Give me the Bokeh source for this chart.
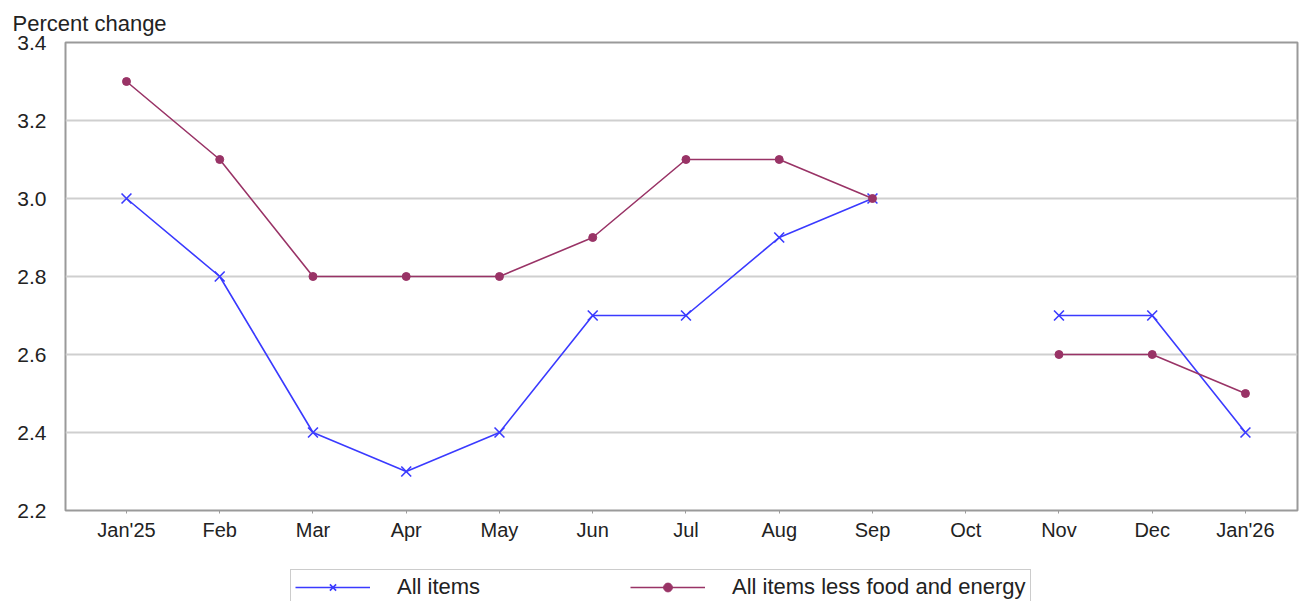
from bokeh.plotting import figure
from bokeh.layouts import column
from bokeh.models import ColumnDataSource, FixedTicker, Legend, LegendItem, Range1d, Title
from bokeh.embed import file_html
from bokeh.resources import INLINE

months = ["Jan'25", "Feb", "Mar", "Apr", "May", "Jun", "Jul", "Aug", "Sep", "Oct", "Nov", "Dec", "Jan'26"]
all_items = [3.0, 2.8, 2.4, 2.3, 2.4, 2.7, 2.7, 2.9, 3.0, float("nan"), 2.7, 2.7, 2.4]
core = [3.3, 3.1, 2.8, 2.8, 2.8, 2.9, 3.1, 3.1, 3.0, float("nan"), 2.6, 2.6, 2.5]
y_ticks = [2.2, 2.4, 2.6, 2.8, 3.0, 3.2, 3.4]
series_names = ["All items", "All items less food and energy"]

xs = list(range(len(months)))
src = ColumnDataSource(dict(x=xs, a=all_items, c=core))

FONT = "Liberation Sans"
BLUE = "#3a3aff"
MAROON = "#993366"
TXT = "#222222"

p = figure(width=1299, height=560, output_backend="svg", toolbar_location=None,
           x_range=Range1d(-0.654, len(months) - 1 + 0.558),
           y_range=Range1d(2.2, 3.4),
           min_border_left=65, min_border_right=2, min_border_top=42, min_border_bottom=50)

p.title = Title(text="Percent change", align="left", offset=-53, text_font=FONT,
                text_font_size="22px", text_font_style="normal", text_color=TXT,
                standoff=14)

p.background_fill_color = "white"
p.outline_line_color = "#9a9a9a"
p.outline_line_width = 2

p.xgrid.grid_line_color = None
p.ygrid.grid_line_color = "#cfcfcf"
p.ygrid.grid_line_width = 2
p.ygrid.ticker = FixedTicker(ticks=y_ticks[1:-1])

p.yaxis.ticker = FixedTicker(ticks=y_ticks)
p.yaxis.major_label_overrides = {t: f"{t:.1f}" for t in y_ticks}
p.yaxis.axis_line_color = None
p.yaxis.major_tick_line_color = None
p.yaxis.minor_tick_line_color = None
p.yaxis.major_label_text_font = FONT
p.yaxis.major_label_text_font_size = "21px"
p.yaxis.major_label_text_color = TXT
p.yaxis.major_label_standoff = 13

p.xaxis.ticker = FixedTicker(ticks=xs)
p.xaxis.major_label_overrides = {i: m for i, m in enumerate(months)}
p.xaxis.axis_line_color = None
p.xaxis.major_tick_line_color = "#9a9a9a"
p.xaxis.major_tick_in = 0
p.xaxis.major_tick_out = 3
p.xaxis.minor_tick_line_color = None
p.xaxis.major_label_text_font = FONT
p.xaxis.major_label_text_font_size = "20px"
p.xaxis.major_label_text_color = TXT
p.xaxis.major_label_standoff = 5

p.line("x", "a", source=src, line_color=BLUE, line_width=1.6)
p.scatter("x", "a", source=src, marker="x", size=14, line_color=BLUE, line_width=1.6)
p.line("x", "c", source=src, line_color=MAROON, line_width=1.6)
p.scatter("x", "c", source=src, marker="circle", size=8, fill_color=MAROON, line_color=MAROON)

# legend strip: a small figure whose view range excludes the data, so only the legend shows
lg = figure(width=1299, height=41, output_backend="svg", toolbar_location=None,
            x_range=Range1d(-0.654, len(months) - 1 + 0.558), y_range=Range1d(0, 1),
            min_border=0, min_border_left=65, min_border_right=2, min_border_top=0, min_border_bottom=0)
lg.axis.visible = False
lg.grid.visible = False
lg.outline_line_color = None
lg.background_fill_color = None
ra1 = lg.line("x", "a", source=src, line_color=BLUE, line_width=1.6)
ra2 = lg.scatter("x", "a", source=src, marker="x", size=12, line_color=BLUE, line_width=1.6)
rc1 = lg.line("x", "c", source=src, line_color=MAROON, line_width=1.6)
rc2 = lg.scatter("x", "c", source=src, marker="circle", size=8, fill_color=MAROON, line_color=MAROON)

legend = Legend(items=[LegendItem(label=series_names[0], renderers=[ra1, ra2]),
                       LegendItem(label=series_names[1], renderers=[rc1, rc2])],
                orientation="horizontal", location=(225, -4),
                glyph_width=75, glyph_height=22, label_standoff=27, label_width=233,
                label_height=22, spacing=0, padding=4, margin=0,
                border_line_color="#9a9a9a", border_line_width=1.5,
                label_text_font=FONT, label_text_font_size="22px", label_text_color=TXT)
lg.add_layout(legend)

layout = column(p, lg, spacing=0)
open("out.html", "w").write(file_html(layout, INLINE))
